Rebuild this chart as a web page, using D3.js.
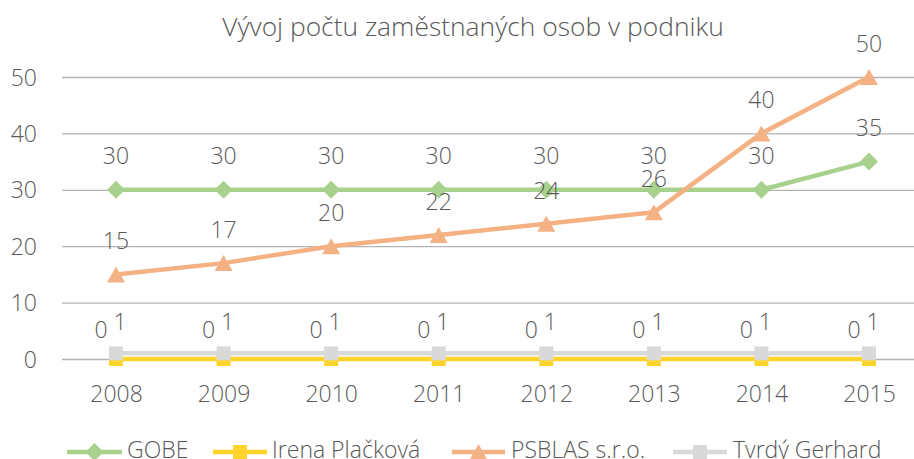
<!DOCTYPE html>
<html><head><meta charset="utf-8">
<script src="https://cdn.jsdelivr.net/npm/d3@7"></script>
<style>body{margin:0;background:#fff}svg{display:block}text{font-family:"Open Sans",Lato,sans-serif;fill:#595959;font-weight:300}</style>
</head><body><svg id="c" width="914" height="459"></svg>
<script>
const title = "Vývoj počtu zaměstnaných osob v podniku";
const years = ["2008","2009","2010","2011","2012","2013","2014","2015"];
const yTicks = [0,10,20,30,40,50];
const seriesNames = ["GOBE","Irena Plačková","PSBLAS s.r.o.","Tvrdý Gerhard"];
const gobe = [30,30,30,30,30,30,30,35];
const irena = [0,0,0,0,0,0,0,0];
const psblas = [15,17,20,22,24,26,40,50];
const tvrdy = [1,1,1,1,1,1,1,1];

const FS = "23px";
const svg = d3.select("#c");
const x = d3.scalePoint().domain(years).range([116, 869]);
const y = d3.scaleLinear().domain([0,50]).range([359, 77]);

svg.append("text").attr("x",473).attr("y",36).attr("text-anchor","middle")
  .style("font-size","26.4px").text(title);

const yAxis = d3.axisLeft(y).tickValues(yTicks).tickSize(-(923-62)).tickPadding(25);
const ga = svg.append("g").attr("transform","translate(62,0)").call(yAxis);
ga.select(".domain").remove();
ga.selectAll(".tick line").attr("stroke","#b3b3b3").attr("stroke-width",1.3);
ga.selectAll(".tick text").style("font-size",FS).attr("fill","#595959").attr("x",-25).attr("dy","0.35em");

const xAxis = d3.axisBottom(x).tickSize(0).tickPadding(0);
const gx = svg.append("g").attr("transform","translate(0,394)").call(xAxis);
gx.select(".domain").remove();
gx.selectAll(".tick text").style("font-size",FS).attr("fill","#595959").attr("dy","0.35em");

const series = [
  {name:seriesNames[0], vals:gobe, color:"#a9d18e", marker:"diamond"},
  {name:seriesNames[1], vals:irena, color:"#ffd42a", marker:"square"},
  {name:seriesNames[2], vals:psblas, color:"#f4b183", marker:"triangle"},
  {name:seriesNames[3], vals:tvrdy, color:"#d9d9d9", marker:"square"}
];
function markerPath(m){
  if(m==="diamond") return "M0,-9L9,0L0,9L-9,0Z";
  if(m==="square") return "M-7,-7H7V7H-7Z";
  return "M0,-8L9,8H-9Z";
}
const line = d3.line().x((d,i)=>x(years[i])).y(d=>y(d));
const order = [1,3,0,2];
order.forEach(k=>{
  const s = series[k];
  const g = svg.append("g");
  g.append("path").attr("d",line(s.vals)).attr("fill","none").attr("stroke",s.color).attr("stroke-width",4.5).attr("stroke-linejoin","round");
  g.selectAll("path.m").data(s.vals).join("path").attr("class","m")
    .attr("transform",(d,i)=>`translate(${x(years[i])},${y(d)})`)
    .attr("d",markerPath(s.marker)).attr("fill",s.color);
});
function labels(vals, dx, dy){
  svg.append("g").selectAll("text").data(vals).join("text")
    .attr("x",(d,i)=>x(years[i])+dx).attr("y",(d,i)=>y(d)+dy)
    .attr("text-anchor","middle").attr("dy","0.35em").style("font-size",FS).text(d=>d);
}
labels(gobe,0,-34);
labels(psblas,0,-33);
labels(irena,-15,-29);
labels(tvrdy,4,-31);

const leg = [
  {s:series[0], x0:67, x1:122, tx:127},
  {s:series[1], x0:213, x1:267, tx:272},
  {s:series[2], x0:452, x1:505, tx:511},
  {s:series[3], x0:673, x1:727, tx:733}
];
const ly = 452;
leg.forEach(l=>{
  svg.append("line").attr("x1",l.x0).attr("x2",l.x1).attr("y1",ly).attr("y2",ly).attr("stroke",l.s.color).attr("stroke-width",4.5);
  svg.append("path").attr("transform",`translate(${(l.x0+l.x1)/2},${ly})`).attr("d",markerPath(l.s.marker)).attr("fill",l.s.color);
  svg.append("text").attr("x",l.tx).attr("y",ly-2).attr("dy","0.35em").style("font-size",FS).text(l.s.name);
});
</script></body></html>
